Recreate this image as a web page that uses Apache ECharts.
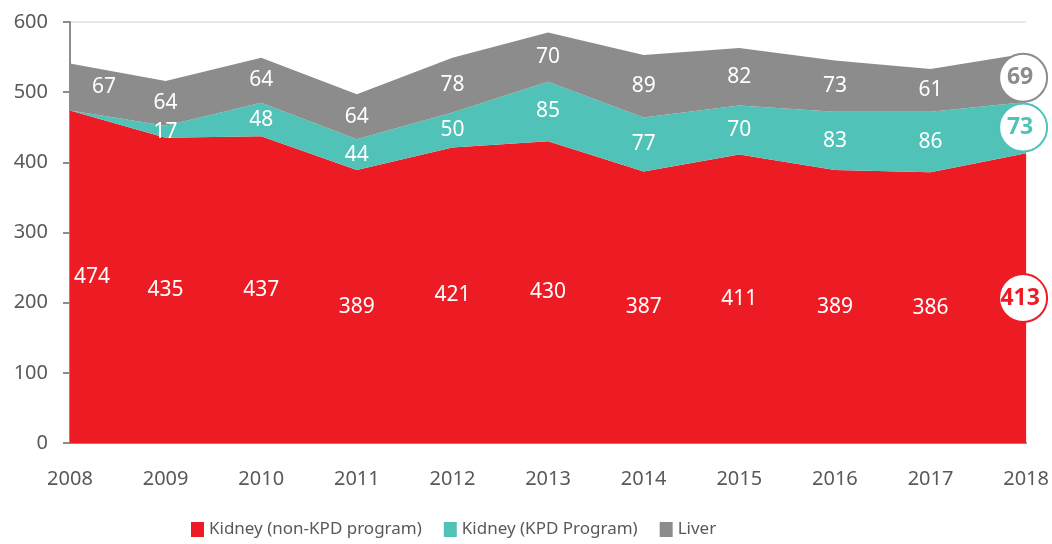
<!DOCTYPE html>
<html>
<head>
<meta charset="utf-8">
<script src="https://cdn.jsdelivr.net/npm/echarts@6/dist/echarts.min.js"></script>
<style>
  html, body { margin: 0; padding: 0; background: #fff; }
  #main { width: 1052px; height: 544px; }
</style>
</head>
<body>
<div id="main"></div>
<script>
var myChart = echarts.init(document.getElementById('main'))

var years = ['2008', '2009', '2010', '2011', '2012', '2013', '2014', '2015', '2016', '2017', '2018']
var kidneyNonKpd = [474, 435, 437, 389, 421, 430, 387, 411, 389, 386, 413]
var kidneyKpd = [0, 17, 48, 44, 50, 85, 77, 70, 83, 86, 73]
var liver = [67, 64, 64, 64, 78, 70, 89, 82, 73, 61, 69]

var names = ['Kidney (non-KPD program)', 'Kidney (KPD Program)', 'Liver']
var colors = ['#ED1C24', '#50C2B8', '#8C8C8C']
var bands = [kidneyNonKpd, kidneyKpd, liver]
var firstShift = [22, 0, 34]
var font = 'Noto Sans'

// value labels sit in the middle of each band
function labelSeries(k) {
    var data = []
    for (var i = 0; i < years.length; i++) {
        var v = bands[k][i]
        if (!v) continue
        var base = 0
        for (var j = 0; j < k; j++) base += bands[j][i]
        var item = { value: [i, base + v / 2], raw: v }
        if (i === 0) {
            item.label = { offset: [firstShift[k], 0] }
        }
        if (i === years.length - 1) {
            item.symbolSize = 48
            item.symbolOffset = [-3, 0]
            item.itemStyle = { color: '#fff', opacity: 1, borderColor: colors[k], borderWidth: 2 }
            item.label = { color: colors[k], fontWeight: 'bold', fontSize: 23, offset: [-3, 0] }
        }
        data.push(item)
    }
    return {
        type: 'scatter',
        symbolSize: 0,
        silent: true,
        clip: false,
        z: 5,
        itemStyle: { color: 'transparent', opacity: 1 },
        label: {
            show: true,
            position: 'inside',
            color: '#fff',
            fontSize: 21,
            fontFamily: font,
            formatter: function (p) { return p.data.raw }
        },
        data: data
    }
}

var series = []
for (var k = 0; k < 3; k++) {
    series.push({
        name: names[k],
        type: 'line',
        stack: 'total',
        symbol: 'none',
        lineStyle: { width: 0 },
        areaStyle: { color: colors[k], opacity: 1 },
        itemStyle: { color: colors[k] },
        data: bands[k]
    })
}
for (var k = 0; k < 3; k++) series.push(labelSeries(k))

var option = {
    backgroundColor: '#ffffff',
    animation: false,
    grid: { left: 70, right: 25, top: 22, bottom: 101 },
    legend: {
        data: names,
        left: 186,
        bottom: 1,
        itemWidth: 13,
        itemHeight: 15,
        itemGap: 22,
        icon: 'rect',
        textStyle: { color: '#595959', fontSize: 17, fontFamily: font }
    },
    xAxis: {
        type: 'category',
        data: years,
        boundaryGap: false,
        axisLine: { lineStyle: { color: '#8C8C8C', width: 2 } },
        axisTick: { show: false },
        axisLabel: { color: '#595959', fontSize: 20, fontFamily: font, margin: 26 }
    },
    yAxis: {
        type: 'value',
        min: 0,
        max: 600,
        interval: 100,
        axisLine: { show: true, lineStyle: { color: '#8C8C8C', width: 2 } },
        axisTick: { show: true, length: 7, lineStyle: { color: '#8C8C8C', width: 2 } },
        axisLabel: { color: '#595959', fontSize: 20, fontFamily: font, margin: 22 },
        splitLine: {
            show: true,
            lineStyle: { color: ['none', 'none', 'none', 'none', 'none', 'none', '#e8e8e8'], width: 2 }
        }
    },
    series: series
}

myChart.setOption(option)
</script>
</body>
</html>
